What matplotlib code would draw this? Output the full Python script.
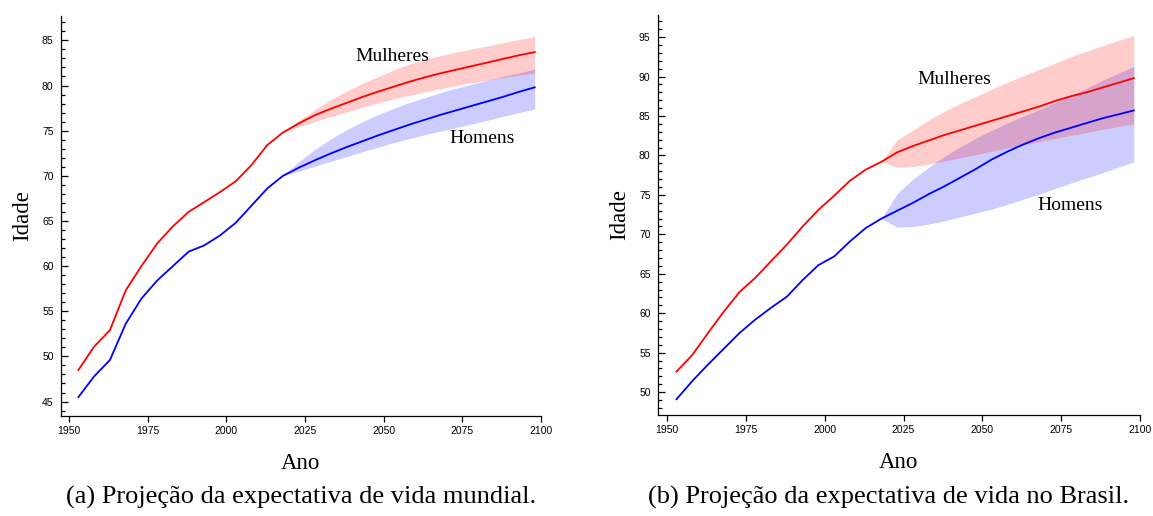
import numpy as np
import matplotlib
matplotlib.use("Agg")
import matplotlib.pyplot as plt
from matplotlib.ticker import MultipleLocator

# anos (pontos médios dos quinquênios) e trecho projetado
anos = [1953, 1958, 1963, 1968, 1973, 1978, 1983, 1988, 1993, 1998, 2003, 2008, 2013,
        2018, 2023, 2028, 2033, 2038, 2043, 2048, 2053, 2058, 2063, 2068, 2073, 2078,
        2083, 2088, 2093, 2098]
anos_proj = anos[13:]

# (a) mundo
mundo_mulheres = [48.5, 51.1, 52.9, 57.3, 60.0, 62.5, 64.4, 66.0, 67.1, 68.2, 69.4, 71.2, 73.4,
                  74.8, 75.8, 76.7, 77.4, 78.05, 78.7, 79.3, 79.85, 80.4, 80.9, 81.35, 81.75, 82.15,
                  82.55, 82.95, 83.35, 83.7]
mundo_homens = [45.5, 47.8, 49.6, 53.6, 56.4, 58.4, 60.0, 61.6, 62.3, 63.4, 64.8, 66.7, 68.6,
                70.0, 70.9, 71.7, 72.45, 73.15, 73.8, 74.45, 75.05, 75.65, 76.2, 76.75, 77.25, 77.75,
                78.25, 78.75, 79.3, 79.8]
mundo_mulheres_sup = [74.8, 76.1, 77.3, 78.4, 79.35, 80.2, 80.95, 81.7, 82.35, 82.9, 83.3, 83.7,
                      84.05, 84.4, 84.75, 85.1, 85.4]
mundo_mulheres_inf = [74.8, 75.4, 76.0, 76.55, 77.05, 77.55, 78.05, 78.5, 78.9, 79.3, 79.65, 80.0,
                      80.3, 80.6, 80.9, 81.15, 81.4]
mundo_homens_sup = [70.0, 71.55, 72.9, 74.05, 75.05, 75.95, 76.75, 77.45, 78.1, 78.65, 79.2, 79.7,
                    80.15, 80.6, 81.0, 81.4, 81.8]
mundo_homens_inf = [70.0, 70.5, 71.05, 71.6, 72.1, 72.65, 73.15, 73.65, 74.1, 74.55, 74.95, 75.35,
                    75.75, 76.15, 76.6, 77.0, 77.4]

# (b) Brasil
brasil_mulheres = [52.6, 54.7, 57.5, 60.2, 62.7, 64.5, 66.6, 68.7, 71.0, 73.1, 74.9, 76.8, 78.2,
                   79.2, 80.4, 81.2, 81.9, 82.6, 83.2, 83.8, 84.4, 85.0, 85.6, 86.2, 86.9, 87.5,
                   88.0, 88.6, 89.2, 89.8]
brasil_homens = [49.1, 51.4, 53.5, 55.5, 57.5, 59.2, 60.7, 62.1, 64.2, 66.1, 67.2, 69.1, 70.8,
                 72.0, 73.0, 74.0, 75.1, 76.1, 77.2, 78.3, 79.5, 80.5, 81.4, 82.2, 82.9, 83.5,
                 84.1, 84.7, 85.2, 85.7]
brasil_mulheres_sup = [79.2, 82.0, 83.2, 84.5, 85.6, 86.6, 87.5, 88.4, 89.3, 90.1, 90.9, 91.7,
                       92.5, 93.2, 93.9, 94.6, 95.2]
brasil_mulheres_inf = [79.2, 78.5, 78.6, 78.9, 79.3, 79.7, 80.1, 80.55, 80.95, 81.35, 81.75, 82.15,
                       82.55, 82.9, 83.3, 83.65, 84.0]
brasil_homens_sup = [72.0, 75.2, 77.0, 78.5, 79.9, 81.1, 82.2, 83.2, 84.1, 85.0, 85.8, 86.7,
                     87.6, 88.5, 89.5, 90.4, 91.3]
brasil_homens_inf = [72.0, 70.9, 71.0, 71.3, 71.7, 72.2, 72.7, 73.2, 73.8, 74.45, 75.1, 75.8,
                     76.5, 77.15, 77.8, 78.5, 79.2]

serif = ['Liberation Serif', 'DejaVu Serif']
sans = ['Liberation Sans', 'DejaVu Sans']


def desenhar(ax, mulheres, homens, m_sup, m_inf, h_sup, h_inf, xlim, ylim, pos_m, pos_h):
    ax.fill_between(anos_proj, h_inf, h_sup, color='blue', alpha=0.2, lw=0)
    ax.fill_between(anos_proj, m_inf, m_sup, color='red', alpha=0.2, lw=0)
    ax.plot(anos, mulheres, color='red', lw=1.3)
    ax.plot(anos, homens, color='blue', lw=1.3)

    ax.text(pos_m[0], pos_m[1], 'Mulheres', family=serif, fontsize=14, ha='center', va='center')
    ax.text(pos_h[0], pos_h[1], 'Homens', family=serif, fontsize=14, ha='center', va='center')

    ax.set_xlim(*xlim)
    ax.set_ylim(*ylim)
    ax.set_xticks([1950, 1975, 2000, 2025, 2050, 2075, 2100])
    ax.yaxis.set_major_locator(MultipleLocator(5))
    ax.yaxis.set_minor_locator(MultipleLocator(1))
    ax.tick_params(axis='y', which='major', direction='in', length=5, width=0.9, pad=5)
    ax.tick_params(axis='y', which='minor', direction='in', length=2.6, width=0.9)
    ax.tick_params(axis='x', which='major', direction='out', length=4.5, width=0.9, pad=3)
    for lbl in ax.get_xticklabels() + ax.get_yticklabels():
        lbl.set_family(sans)
        lbl.set_fontsize(7.5)

    for s in ['top', 'right']:
        ax.spines[s].set_visible(False)
    for s in ['left', 'bottom']:
        ax.spines[s].set_linewidth(0.9)

    ax.set_xlabel('Ano', family=serif, fontsize=16.5, labelpad=12)
    ax.set_ylabel('Idade', family=serif, fontsize=16.5, labelpad=6)


fig = plt.figure(figsize=(11.53, 5.16), dpi=100)
ax1 = fig.add_axes([0.0525, 0.1938, 0.4167, 0.7752])
ax2 = fig.add_axes([0.5703, 0.1957, 0.4185, 0.7752])

desenhar(ax1, mundo_mulheres, mundo_homens, mundo_mulheres_sup, mundo_mulheres_inf,
         mundo_homens_sup, mundo_homens_inf, (1947.3, 2100), (43.4, 87.7),
         (2052.6, 83.2), (2081.2, 74.1))
desenhar(ax2, brasil_mulheres, brasil_homens, brasil_mulheres_sup, brasil_mulheres_inf,
         brasil_homens_sup, brasil_homens_inf, (1947.0, 2100), (47.1, 97.8),
         (2041.0, 89.6), (2077.8, 73.7))

fig.text(301 / 1153, 1 - 497 / 516, '(a) Projeção da expectativa de vida mundial.',
         family=serif, fontsize=19, ha='center', va='center')
fig.text(889 / 1153, 1 - 497 / 516, '(b) Projeção da expectativa de vida no Brasil.',
         family=serif, fontsize=19, ha='center', va='center')

fig.savefig('out.png', dpi=100)
